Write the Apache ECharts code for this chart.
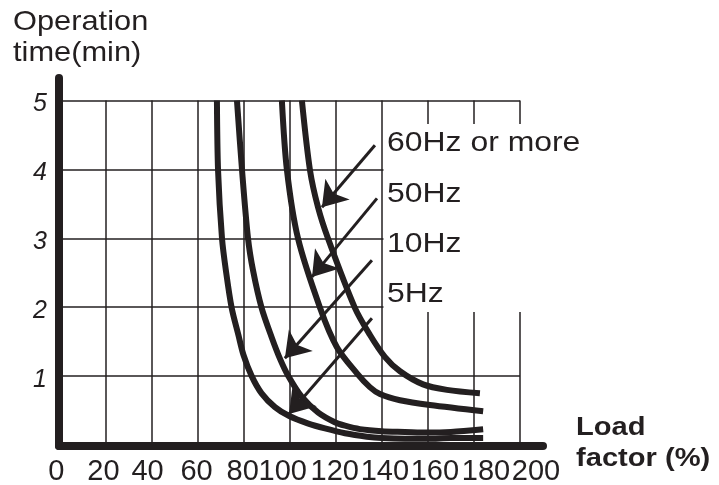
<!DOCTYPE html>
<html>
<head>
<meta charset="utf-8">
<title>Operation time vs load factor</title>
<script src="https://cdn.jsdelivr.net/npm/echarts@6/dist/echarts.min.js"></script>
<style>
  html, body { margin: 0; padding: 0; background: #fff; }
  #main { width: 719px; height: 485px; }
</style>
</head>
<body>
<div id="main"></div>
<script>
// axis ticks
var xTicks = [0, 20, 40, 60, 80, 100, 120, 140, 160, 180, 200];
var yTicks = [1, 2, 3, 4, 5];

// load factor (%) -> operation time (min)
var curve5Hz = [[68.4, 5.0], [68.9, 3.98], [70.6, 3.0], [72.3, 2.53], [74.8, 1.99], [77.7, 1.6],
  [79.9, 1.31], [83.5, 1.0], [87.8, 0.75], [93.6, 0.55], [99.8, 0.42], [108.1, 0.31],
  [115.3, 0.24], [124.0, 0.17], [133.5, 0.12], [140, 0.1], [150, 0.09], [160, 0.09],
  [170, 0.1], [184, 0.1]];
var curve10Hz = [[77.1, 5.0], [79.3, 3.99], [81.9, 3.0], [84.1, 2.53], [87.8, 1.99], [92.2, 1.56],
  [95.8, 1.25], [99.4, 1.0], [105.2, 0.7], [112.4, 0.47], [119.6, 0.33], [124.0, 0.28],
  [130.5, 0.23], [140, 0.2], [150, 0.19], [160, 0.18], [170, 0.19], [184, 0.23]];
var curve50Hz = [[96.6, 5.0], [98.8, 3.99], [103.6, 3.0], [113.2, 1.99],
  [120.5, 1.42], [129.2, 1.04], [134.8, 0.84], [139.2, 0.74], [147.9, 0.65], [160.9, 0.58],
  [184, 0.49]];
var curve60Hz = [[105.3, 5.0], [108.8, 3.99], [112.3, 3.45], [116.6, 3.0],
  [128.3, 1.99], [134.8, 1.6], [141.3, 1.28], [147.9, 1.07], [157.9, 0.88], [168.3, 0.8],
  [182.6, 0.75]];

// arrows from the labels to the curves: [tail, head]
var arrow60Hz = [[137.0, 4.35], [114.0, 3.45]];
var arrow50Hz = [[137.9, 3.58], [109.7, 2.44]];
var arrow10Hz = [[135.7, 2.68], [97.9, 1.26]];
var arrow5Hz = [[135.7, 1.84], [99.7, 0.45]];

var curveLabels = ['60Hz or more', '50Hz', '10Hz', '5Hz'];

// layout only: label placement
var labelY = [143, 194, 244, 294];
var xLabelShift = [-3, -2, -4, -1, -1, -7, -1, 3, 7, 12, 16];

var ink = '#231f20';
var font = 'Liberation Sans';

var chart = echarts.init(document.getElementById('main'));

function curve(name, data) {
  return {
    name: name,
    type: 'line',
    xAxisIndex: 0,
    yAxisIndex: 0,
    data: data,
    smooth: 0.3,
    showSymbol: false,
    silent: true,
    z: 3,
    lineStyle: { color: ink, width: 6, cap: 'butt' }
  };
}

function text(t, x, y, size, bold, sx, extra) {
  var el = {
    type: 'text', z: 5, x: x, y: y, scaleX: sx,
    style: {
      text: t, fill: ink, fontSize: size, fontFamily: font,
      fontWeight: bold ? 'bold' : 'normal', verticalAlign: 'middle'
    }
  };
  if (extra) Object.assign(el.style, extra);
  return el;
}

var labelGraphics = [{
  type: 'rect',
  z: 1,
  shape: { x: 383.5, y: 124, width: 180, height: 188 },
  style: { fill: '#fff' }
}];
curveLabels.forEach(function (t, i) {
  labelGraphics.push(text(t, 387, labelY[i], 28, false, 1.14));
});
labelGraphics.push(
  text('Operation', 13, 22, 28, false, 1.1),
  text('time(min)', 13, 53, 28, false, 1.1),
  text('Load', 576, 428, 26, true, 1.12),
  text('factor (%)', 576, 459, 26, true, 1.12)
);

var plainAxis = {
  axisLine: { show: false },
  axisTick: { show: false },
  axisLabel: { show: false },
  splitLine: { show: true, lineStyle: { color: ink, width: 1.5 } }
};
var heavyAxis = {
  type: 'value', min: 0, max: 1,
  axisLine: { show: true, lineStyle: { color: ink, width: 8 } },
  axisTick: { show: false }, axisLabel: { show: false }, splitLine: { show: false }
};

chart.setOption({
  animation: false,
  backgroundColor: '#fff',
  grid: [
    { left: 59.4, right: 199, top: 100.5, bottom: 40 },
    // the heavy axis lines run past the grid
    { left: 59, right: 176, top: 78, bottom: 39 }
  ],
  xAxis: [
    Object.assign({ gridIndex: 0, type: 'value', min: xTicks[0], max: xTicks[xTicks.length - 1],
      interval: xTicks[1] - xTicks[0] }, plainAxis),
    Object.assign({ gridIndex: 1 }, heavyAxis)
  ],
  yAxis: [
    Object.assign({ gridIndex: 0, type: 'value', min: 0, max: yTicks[yTicks.length - 1],
      interval: yTicks[1] - yTicks[0] }, plainAxis),
    Object.assign({ gridIndex: 1 }, heavyAxis)
  ],
  graphic: labelGraphics,
  series: [
    curve('5Hz', curve5Hz),
    curve('10Hz', curve10Hz),
    curve('50Hz', curve50Hz),
    curve('60Hz or more', curve60Hz),
    {
      name: 'arrows',
      type: 'lines',
      coordinateSystem: 'cartesian2d',
      xAxisIndex: 0,
      yAxisIndex: 0,
      silent: true,
      z: 4,
      symbol: ['none', 'arrow'],
      symbolSize: [20, 24],
      lineStyle: { color: ink, width: 3, opacity: 1 },
      data: [arrow60Hz, arrow50Hz, arrow10Hz, arrow5Hz].map(function (a) {
        return { coords: a };
      })
    }
  ]
});

// tick labels sit close together, so place them through the axis scale
// (echarts would drop the overlapping ones)
var tickGraphics = [];
xTicks.forEach(function (v, i) {
  var px = chart.convertToPixel({ xAxisIndex: 0 }, v);
  tickGraphics.push(text(String(v), px + xLabelShift[i], 472, 29, false, 1, { align: 'center' }));
});
yTicks.forEach(function (v) {
  var py = chart.convertToPixel({ yAxisIndex: 0 }, v);
  tickGraphics.push(text(String(v), 47, py + 4, 25, false, 1,
    { align: 'right', fontStyle: 'italic' }));
});
chart.setOption({ graphic: labelGraphics.concat(tickGraphics) });
</script>
</body>
</html>
